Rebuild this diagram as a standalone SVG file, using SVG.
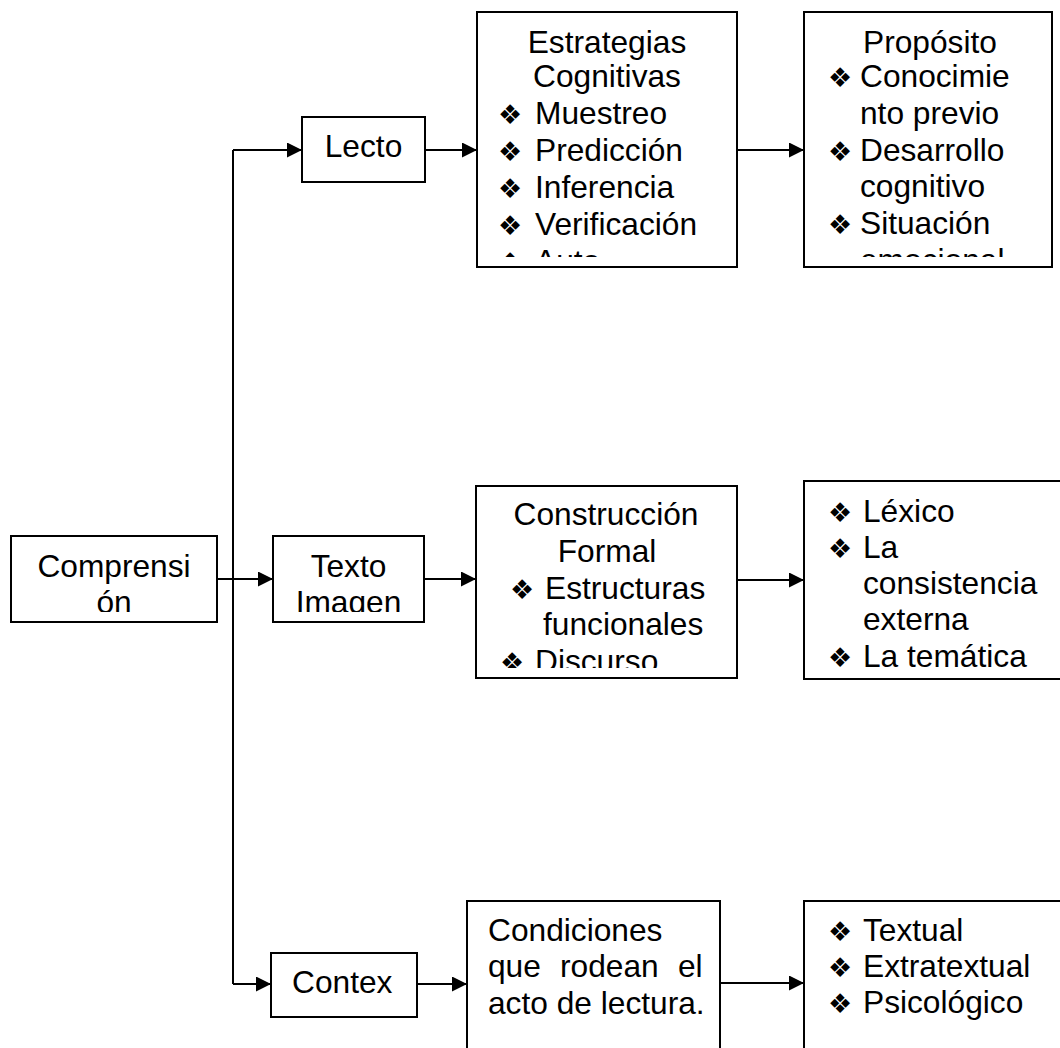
<svg xmlns="http://www.w3.org/2000/svg" width="1060" height="1048" viewBox="0 0 1060 1048">
<style>
.box{fill:#fff;stroke:#000;stroke-width:2}
.t{font-family:"Liberation Sans",Arial,sans-serif;font-size:31.7px;fill:#000}
.m{text-anchor:middle}
.b{font-family:"DejaVu Sans",sans-serif;font-size:27px;fill:#000;transform:translate(0px,0px)}
.c{fill:none;stroke:#000;stroke-width:2}
</style>
<defs>
<marker id="ah" markerUnits="userSpaceOnUse" markerWidth="16" markerHeight="15" refX="15" refY="7.5" orient="auto">
<path d="M0,0 L15,7.5 L0,15 z" fill="#000"/>
</marker>
<clipPath id="cEst"><rect x="477" y="12" width="260" height="245"/></clipPath>
<clipPath id="cPro"><rect x="804" y="12" width="248" height="245"/></clipPath>
<clipPath id="cCom"><rect x="11" y="536" width="206" height="76"/></clipPath>
<clipPath id="cTex"><rect x="273" y="536" width="151" height="76"/></clipPath>
<clipPath id="cCon"><rect x="476" y="486" width="261" height="182"/></clipPath>
</defs>

<g id="connectors">
<path class="c" d="M233,150 V984"/>
<path class="c" d="M233,150 H302" marker-end="url(#ah)"/>
<path class="c" d="M217,579 H273" marker-end="url(#ah)"/>
<path class="c" d="M233,984 H271" marker-end="url(#ah)"/>
<path class="c" d="M422,150 H477" marker-end="url(#ah)"/>
<path class="c" d="M737,150 H804" marker-end="url(#ah)"/>
<path class="c" d="M424,579 H476" marker-end="url(#ah)"/>
<path class="c" d="M737,580 H804" marker-end="url(#ah)"/>
<path class="c" d="M417,984 H467" marker-end="url(#ah)"/>
<path class="c" d="M720,983 H804" marker-end="url(#ah)"/>
</g>

<g id="comprension">
<rect class="box" x="11" y="536" width="206" height="86"/>
<g clip-path="url(#cCom)">
<text class="t m" x="114" y="577">Comprensi</text>
<text class="t m" x="114" y="613">ón</text>
</g>
</g>

<g id="lecto">
<rect class="box" x="302" y="117" width="123" height="65"/>
<text class="t m" x="363.5" y="157">Lecto</text>
</g>

<g id="texto">
<rect class="box" x="273" y="536" width="151" height="86"/>
<g clip-path="url(#cTex)">
<text class="t m" x="348.5" y="577">Texto</text>
<text class="t m" x="348.5" y="613">Imagen</text>
</g>
</g>

<g id="contex">
<rect class="box" x="271" y="953" width="146" height="64"/>
<text class="t" x="292" y="993">Contex</text>
</g>

<g id="estrategias">
<rect class="box" x="477" y="12" width="260" height="255"/>
<g clip-path="url(#cEst)">
<text class="t m" x="607" y="53">Estrategias</text>
<text class="t m" x="607" y="87">Cognitivas</text>
<text class="b" x="498" y="124">❖</text><text class="t" x="535" y="124">Muestreo</text>
<text class="b" x="498" y="161">❖</text><text class="t" x="535" y="161">Predicción</text>
<text class="b" x="498" y="198">❖</text><text class="t" x="535" y="198">Inferencia</text>
<text class="b" x="498" y="235">❖</text><text class="t" x="535" y="235">Verificación</text>
<text class="b" x="498" y="272">❖</text><text class="t" x="535" y="272">Auto</text>
</g>
</g>

<g id="proposito">
<rect class="box" x="804" y="12" width="248" height="255"/>
<g clip-path="url(#cPro)">
<text class="t" x="863" y="53">Propósito</text>
<text class="b" x="828" y="87">❖</text><text class="t" x="860" y="87">Conocimie</text>
<text class="t" x="860" y="124">nto previo</text>
<text class="b" x="828" y="161">❖</text><text class="t" x="860" y="161">Desarrollo</text>
<text class="t" x="860" y="197">cognitivo</text>
<text class="b" x="828" y="234">❖</text><text class="t" x="860" y="234">Situación</text>
<text class="t" x="860" y="271">emocional</text>
</g>
</g>

<g id="construccion">
<rect class="box" x="476" y="486" width="261" height="192"/>
<g clip-path="url(#cCon)">
<text class="t m" x="606" y="525">Construcción</text>
<text class="t m" x="607" y="562">Formal</text>
<text class="b" x="510" y="599">❖</text><text class="t" x="545" y="599">Estructuras</text>
<text class="t" x="543" y="635">funcionales</text>
<text class="b" x="500" y="672">❖</text><text class="t" x="535" y="672">Discurso</text>
</g>
</g>

<g id="lexico">
<rect class="box" x="804" y="481" width="270" height="198"/>
<text class="b" x="828" y="522">❖</text><text class="t" x="863" y="522">Léxico</text>
<text class="b" x="828" y="558">❖</text><text class="t" x="863" y="558">La</text>
<text class="t" x="863" y="594">consistencia</text>
<text class="t" x="863" y="630">externa</text>
<text class="b" x="828" y="667">❖</text><text class="t" x="863" y="667">La temática</text>
</g>

<g id="condiciones">
<rect class="box" x="467" y="901" width="253" height="200"/>
<text class="t" x="488" y="941">Condiciones</text>
<text class="t" x="488" y="977">que</text>
<text class="t" x="560" y="977">rodean</text>
<text class="t" x="678" y="977">el</text>
<text class="t" x="488" y="1014">acto de lectura.</text>
</g>

<g id="textual">
<rect class="box" x="804" y="901" width="300" height="200"/>
<text class="b" x="828" y="941">❖</text><text class="t" x="863" y="941">Textual</text>
<text class="b" x="828" y="977">❖</text><text class="t" x="863" y="977">Extratextual</text>
<text class="b" x="828" y="1013">❖</text><text class="t" x="863" y="1013">Psicológico</text>
</g>
</svg>
